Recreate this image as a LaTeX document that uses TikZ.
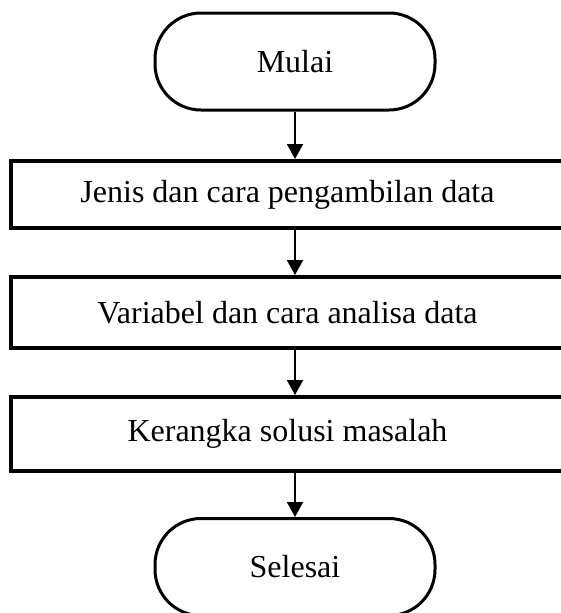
\documentclass[tikz,border=0pt]{standalone}
\usepackage{fontspec}
\setmainfont{Liberation Serif}
\usetikzlibrary{arrows.meta}
\begin{document}
\begin{tikzpicture}[x=1pt,y=-1pt,
  terminal/.style={draw, line width=3pt, rounded corners=46pt, minimum width=280pt, minimum height=97pt, inner sep=0pt, font=\fontsize{32}{38}\selectfont},
  procbox/.style={draw, line width=4pt, minimum width=553pt, inner sep=0pt, font=\fontsize{32}{38}\selectfont},
  flow/.style={line width=2pt, -{Triangle[width=16pt,length=15pt]}}]
\useasboundingbox (0,0) rectangle (561,613);
\node[terminal] (mulai) at (295,61.5) {Mulai};
\node[procbox, minimum height=67pt] (b1) at (287.5,194.5) {Jenis dan cara pengambilan data};
\node[procbox, minimum height=71pt] (b2) at (287.5,312.5) {Variabel dan cara analisa data};
\node[procbox, minimum height=74pt] (b3) at (287.5,434) {Kerangka solusi masalah};
\node[terminal] (selesai) at (295,567) {Selesai};
\draw[flow] (mulai.south) -- (mulai.south |- b1.north);
\draw[flow] (mulai.south |- b1.south) -- (mulai.south |- b2.north);
\draw[flow] (mulai.south |- b2.south) -- (mulai.south |- b3.north);
\draw[flow] (mulai.south |- b3.south) -- (selesai.north);
\end{tikzpicture}
\end{document}
